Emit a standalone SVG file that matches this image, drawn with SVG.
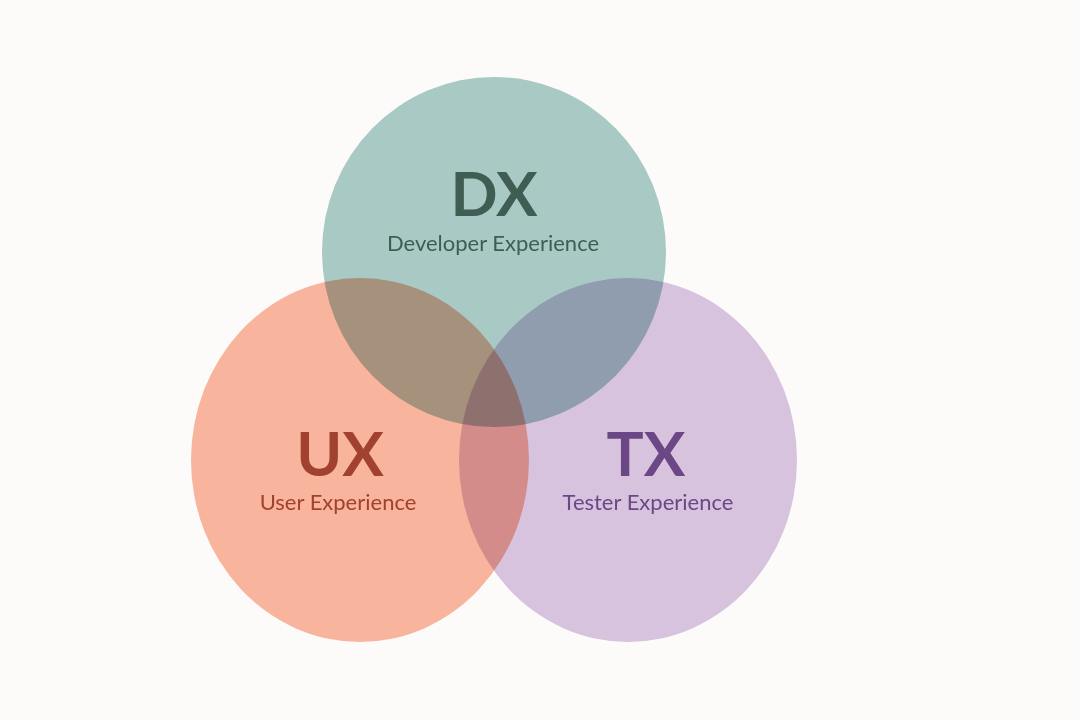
<svg xmlns="http://www.w3.org/2000/svg" width="1080" height="720" viewBox="0 0 1080 720">
<style>
.c{mix-blend-mode:multiply}
.big{font-family:Lato,"Liberation Sans",sans-serif;font-weight:bold;font-size:62px;text-anchor:middle}
.sm{font-family:Lato,"Liberation Sans",sans-serif;font-size:22px;text-anchor:middle}
</style>
<rect width="1080" height="720" fill="#fcfbf9"/>
<g id="ux"><ellipse class="c" cx="360" cy="460" rx="169" ry="182" fill="#fbb7a0"/></g>
<g id="tx"><ellipse class="c" cx="628" cy="460" rx="169" ry="182" fill="#dac6e3"/></g>
<g id="dx"><ellipse class="c" cx="494" cy="252" rx="172" ry="175" fill="#abcdca"/></g>
<g id="labels">
<text class="big" x="494" y="216" fill="#3f5d52">DX</text>
<text class="sm" x="493" y="251" fill="#3f5d52">Developer Experience</text>
<text class="big" x="340" y="476" fill="#a0422f">UX</text>
<text class="sm" x="338" y="510" fill="#a0422f">User Experience</text>
<text class="big" x="646" y="476" fill="#6b4785">TX</text>
<text class="sm" x="648" y="510" fill="#6b4785">Tester Experience</text>
</g>
<g id="connectors"/>
</svg>
